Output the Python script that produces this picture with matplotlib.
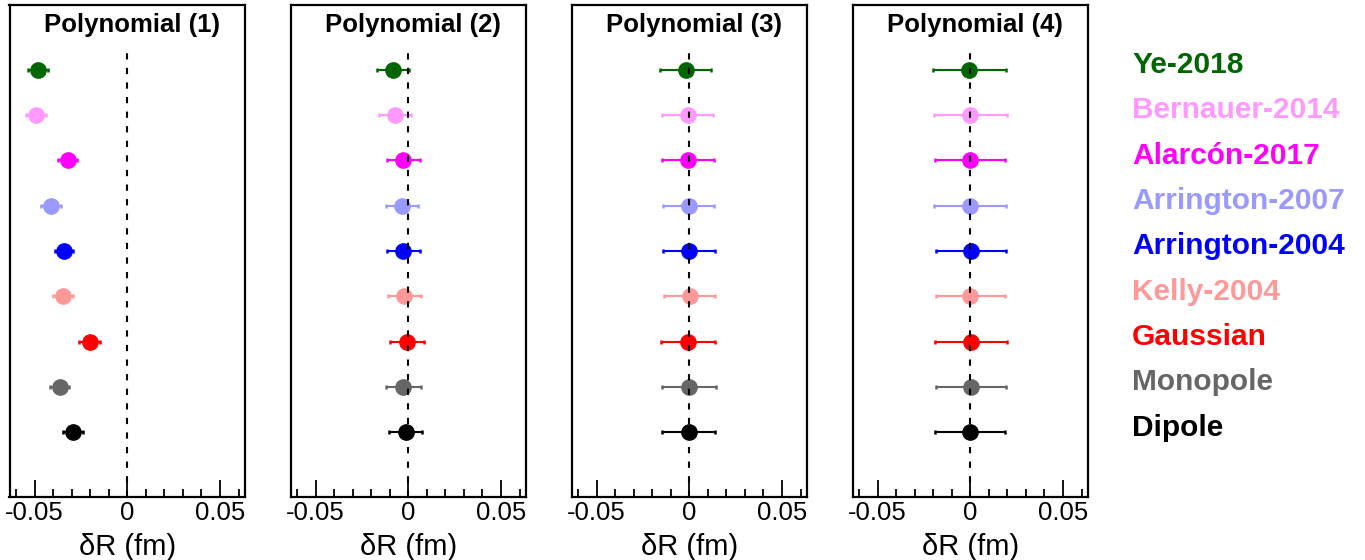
import numpy as np
import matplotlib.pyplot as plt
from matplotlib.ticker import MultipleLocator
from matplotlib.transforms import blended_transform_factory

plt.rcParams['font.family'] = ['Liberation Sans', 'DejaVu Sans']

labels = ["Ye-2018", "Bernauer-2014", "Alarcón-2017", "Arrington-2007",
          "Arrington-2004", "Kelly-2004", "Gaussian", "Monopole", "Dipole"]
colors = ["#006600", "#ff99ff", "#ff00ff", "#9999ff",
          "#0000ff", "#ff9999", "#ff0000", "#666666", "#000000"]
titles = ["Polynomial (1)", "Polynomial (2)", "Polynomial (3)", "Polynomial (4)"]

# delta R (fm) and error, one list per fit
dr = [
    [-0.0480, -0.0493, -0.0322, -0.0412, -0.0343, -0.0347, -0.0203, -0.0365, -0.0291],
    [-0.0083, -0.0070, -0.0027, -0.0034, -0.0027, -0.0022, -0.0009, -0.0027, -0.0014],
    [-0.0020, -0.0009, -0.0005, -0.0002, -0.0002, 0.0002, -0.0005, -0.0002, -0.0002],
    [-0.0005, 0.0000, -0.0002, 0.0000, 0.0004, 0.0000, 0.0002, 0.0004, 0.0000],
]
err = [
    [0.0054, 0.0054, 0.0052, 0.0053, 0.0048, 0.0054, 0.0056, 0.0049, 0.0055],
    [0.0088, 0.0087, 0.0088, 0.0085, 0.0088, 0.0089, 0.0092, 0.0094, 0.0090],
    [0.0139, 0.0139, 0.0140, 0.0137, 0.0139, 0.0139, 0.0145, 0.0145, 0.0143],
    [0.0198, 0.0197, 0.0190, 0.0195, 0.0187, 0.0186, 0.0194, 0.0190, 0.0190],
]

ypos = np.arange(len(labels), 0, -1)

fig = plt.figure(figsize=(13.65, 5.6), dpi=100)
W, H = 1365, 560
axes = []
for i in range(4):
    left = 9.5 + 281 * i
    ax = fig.add_axes([left / W, 63.3 / H, 235.5 / W, 491.4 / H])
    axes.append(ax)
    for k in range(len(labels)):
        ax.errorbar(dr[i][k], ypos[k], xerr=err[i][k], fmt='o', color=colors[k],
                    ms=11, mec=colors[k], elinewidth=1.5, capsize=1.5, capthick=1.8)
    ax.plot([0, 0], [-0.42, 9.45], color='black', lw=1.5, ls=(0, (3, 4)), zorder=5)
    ax.set_xlim(-0.0635, 0.0635)
    ax.set_ylim(-0.42, 10.42)
    ax.set_xticks([-0.05, 0, 0.05])
    ax.set_xticklabels(["-0.05", "0", "0.05"])
    ax.xaxis.set_minor_locator(MultipleLocator(0.01))
    ax.set_yticks([])
    ax.tick_params(axis='x', which='major', direction='in', length=12, width=1.3,
                   labelsize=18.5, pad=3)
    ax.tick_params(axis='x', which='minor', direction='in', length=6, width=1.3)
    for s in ax.spines.values():
        s.set_linewidth(1.6)
    ax.set_xlabel("δR (fm)", fontsize=21, labelpad=6)
    ax.text(0.5 + 5 / 235.5, 0.985, titles[i], transform=ax.transAxes, ha='center',
            va='top', fontsize=18.5, fontweight='bold')

tr = blended_transform_factory(fig.transFigure, axes[-1].transData)
for k in range(len(labels)):
    axes[-1].text(1132 / W, ypos[k] + 0.1, labels[k], transform=tr, color=colors[k],
                  fontsize=21.5, fontweight='bold', ha='left', va='center', clip_on=False)

fig.savefig("out.png", dpi=100)
